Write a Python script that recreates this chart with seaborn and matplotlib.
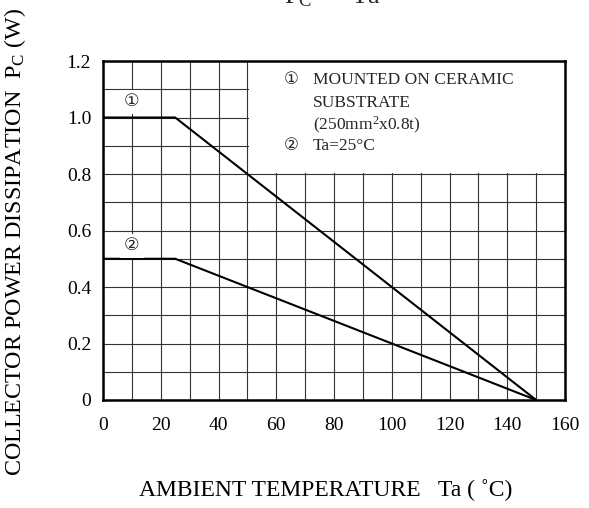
import seaborn as sns
import pandas as pd
import matplotlib.pyplot as plt
from matplotlib.patches import Rectangle
from matplotlib.ticker import MultipleLocator

# derating curves
temp_1 = [0, 25, 150]
pc_1 = [1.0, 1.0, 0.0]
temp_2 = [0, 25, 150]
pc_2 = [0.5, 0.5, 0.0]

x_ticks = [0, 20, 40, 60, 80, 100, 120, 140, 160]
y_ticks = [0, 0.2, 0.4, 0.6, 0.8, 1.0, 1.2]
y_tick_labels = ["0", "0.2", "0.4", "0.6", "0.8", "1.0", "1.2"]

note_lines = ["MOUNTED ON CERAMIC", "SUBSTRATE", "(250mm$^2$x0.8t)"]

sns.set_theme(style="white")
plt.rcParams['font.family'] = ['Liberation Serif', 'DejaVu Sans']
plt.rcParams['mathtext.fontset'] = 'custom'
plt.rcParams['mathtext.rm'] = 'Liberation Serif'
plt.rcParams['mathtext.it'] = 'Liberation Serif:italic'

data = pd.concat([
    pd.DataFrame({"Ta": temp_1, "Pc": pc_1, "curve": "1"}),
    pd.DataFrame({"Ta": temp_2, "Pc": pc_2, "curve": "2"}),
])

fig = plt.figure(figsize=(5.89, 5.08), dpi=100)
ax = fig.add_axes([0.1749, 0.2126, 0.7844, 0.6673])

sns.lineplot(data=data, x="Ta", y="Pc", hue="curve", palette=["black", "black"],
             linewidth=1.5, legend=False, ax=ax, zorder=3, sort=False)

ax.set_xlim(0, 160)
ax.set_ylim(0, 1.2)
ax.set_xticks(x_ticks)
ax.set_yticks(y_ticks)
ax.set_yticklabels(y_tick_labels)
ax.xaxis.set_minor_locator(MultipleLocator(10))
ax.yaxis.set_minor_locator(MultipleLocator(0.1))
ax.grid(which="both", color="#333333", linewidth=0.8)
ax.set_axisbelow(True)
ax.tick_params(which="both", length=0, labelsize=14, colors="black")
ax.tick_params(axis="y", pad=8.5)
ax.tick_params(axis="x", pad=12)
for s in ax.spines.values():
    s.set_color("black")
    s.set_linewidth(1.8)

# white note box covers the grid in the upper right
ax.add_patch(Rectangle((50.4, 0.804), 110, 0.4, facecolor="white", edgecolor="none", zorder=1))

ax.text(65, 1.133, "\u2460", fontsize=12, ha="center", va="center", zorder=4)
ys = [1.133, 1.051, 0.973]
for t, yy in zip(note_lines, ys):
    ax.text(72.7, yy, t, fontsize=12.5, ha="left", va="center", zorder=4)
ax.text(65, 0.899, "\u2461", fontsize=12, ha="center", va="center", zorder=4)
ax.text(72.7, 0.899, "Ta=25\u00b0C", fontsize=12.5, ha="left", va="center", zorder=4)

# curve markers on the plot
for lbl, yy in [("\u2460", 1.055), ("\u2461", 0.545)]:
    ax.text(10, yy, lbl, fontsize=12.5, ha="center", va="center", zorder=4,
            bbox=dict(facecolor="white", edgecolor="none", pad=3))

ax.set_xlabel("AMBIENT TEMPERATURE   Ta ( \u02daC)", fontsize=17, color="black")
ax.set_ylabel("COLLECTOR POWER DISSIPATION  P$_{\\rm C}$ (W)", fontsize=17.3, color="black")
ax.yaxis.set_label_coords(-0.162, 0.466)
ax.xaxis.set_label_coords(0.483, -0.232)

fig.text(0.565, 1 - 3 / 508, "P$_{\\rm C}$ \u2014 Ta", fontsize=19, ha="center", va="baseline")

fig.savefig("out.png", dpi=100)
